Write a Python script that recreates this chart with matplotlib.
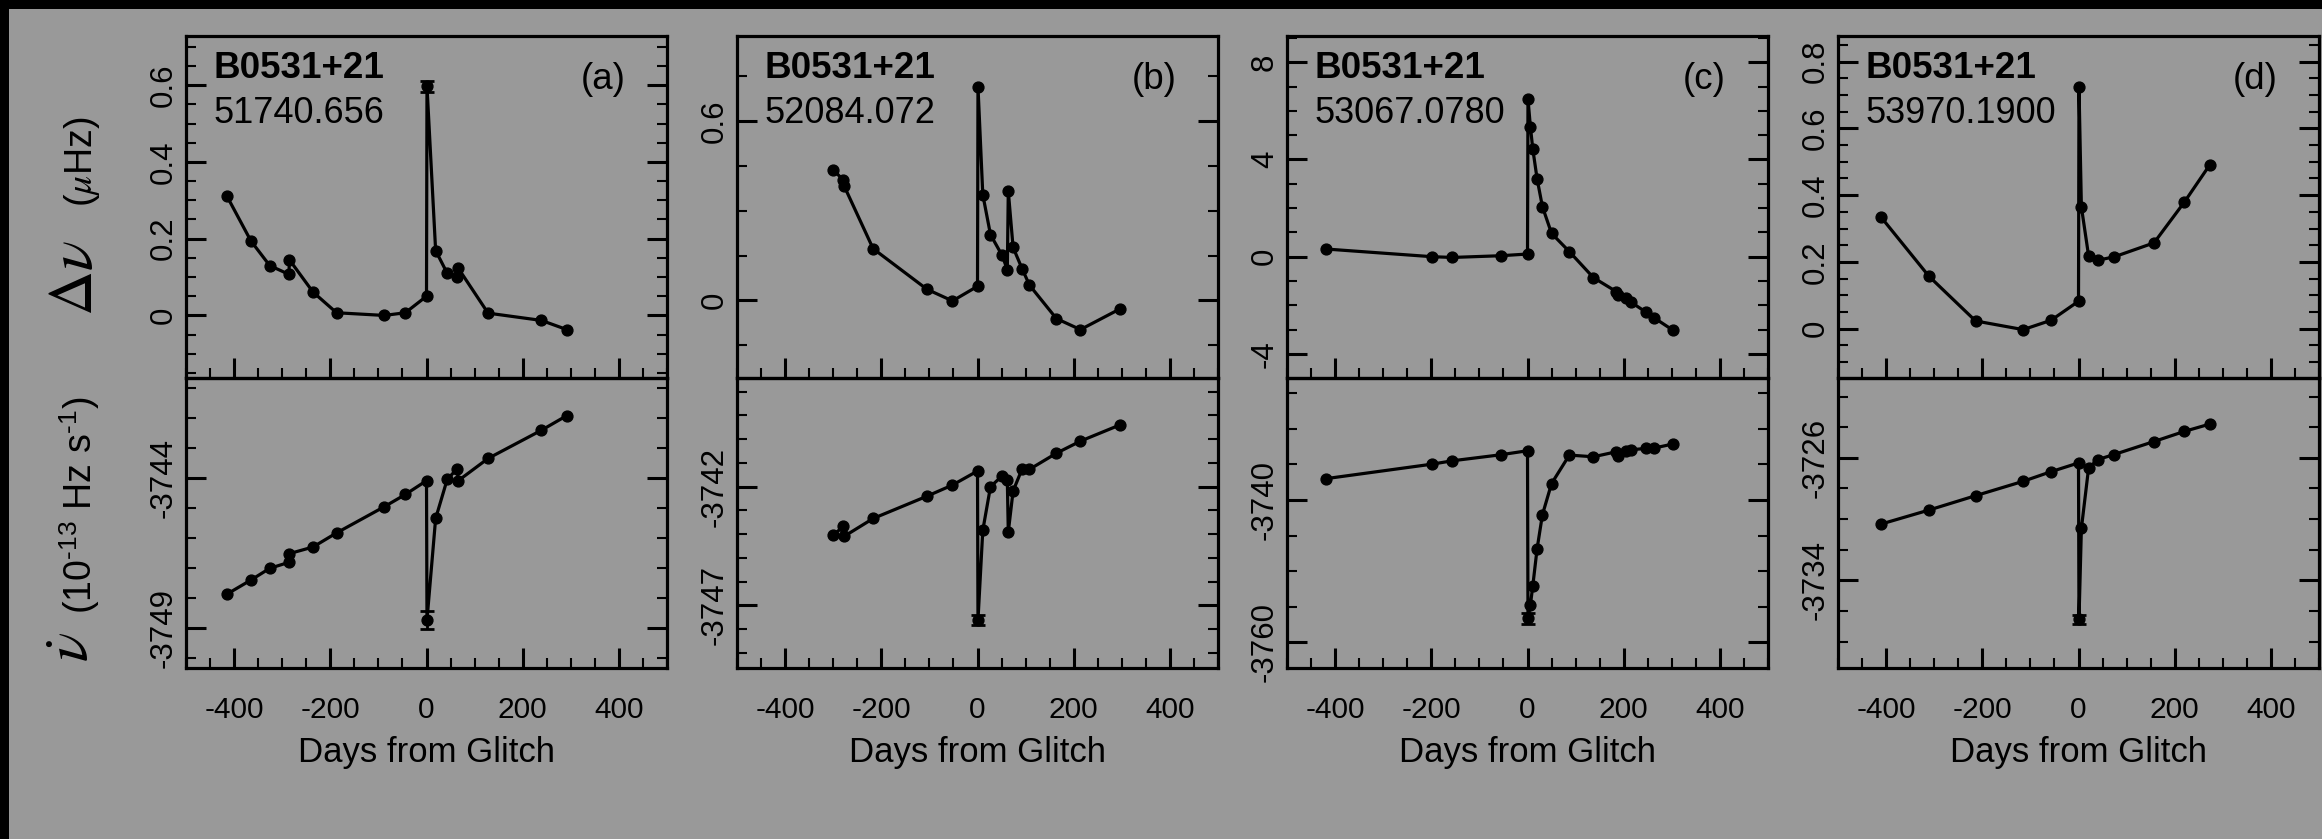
import numpy as np
import matplotlib
matplotlib.use("Agg")
import matplotlib.pyplot as plt
from matplotlib.ticker import MultipleLocator, FixedLocator, FuncFormatter
from matplotlib.patches import Rectangle

plt.rcParams['font.family'] = ['Liberation Sans', 'DejaVu Sans']
plt.rcParams['mathtext.fontset'] = 'stix'
plt.rcParams['axes.unicode_minus'] = False

pulsar = "B0531+21"
panel_letters = ["(a)", "(b)", "(c)", "(d)"]
glitch_epochs = ["51740.656", "52084.072", "53067.0780", "53970.1900"]

days_a = [-415, -365, -326, -286, -285, -236, -187, -88, -44, 0, 1, 19, 43, 64, 66, 128, 239, 292]
dnu_a = [0.311, 0.194, 0.130, 0.107, 0.145, 0.061, 0.007, 0.0, 0.007, 0.050, 0.597, 0.169, 0.110,
         0.100, 0.123, 0.006, -0.013, -0.037]
nudot_a = [-3747.88, -3747.41, -3747.02, -3746.82, -3746.53, -3746.31, -3745.84, -3744.97, -3744.56,
           -3744.10, -3748.74, -3745.36, -3744.06, -3743.70, -3744.10, -3743.36, -3742.42, -3741.93]

days_b = [-300, -279, -277, -217, -105, -52, 0, 1, 11, 27, 51, 62, 64, 74, 93, 108, 164, 214, 297]
dnu_b = [0.438, 0.402, 0.382, 0.173, 0.037, -0.002, 0.047, 0.715, 0.354, 0.220, 0.151, 0.103, 0.366,
         0.177, 0.105, 0.051, -0.061, -0.098, -0.028]
nudot_b = [-3744.05, -3743.67, -3744.09, -3743.34, -3742.40, -3741.93, -3741.34, -3747.62, -3743.84,
           -3742.00, -3741.55, -3741.73, -3743.91, -3742.18, -3741.24, -3741.27, -3740.59, -3740.08,
           -3739.39]

days_c = [-418, -198, -156, -56, 0, 1, 6, 11, 20, 31, 50, 87, 137, 185, 189, 204, 216, 247, 263, 302]
dnu_c = [0.315, 0.0, -0.03, 0.04, 0.11, 6.49, 5.35, 4.43, 3.20, 2.06, 0.96, 0.21, -0.86, -1.44, -1.58,
         -1.71, -1.88, -2.29, -2.51, -3.02]
nudot_c = [-3736.99, -3734.96, -3734.49, -3733.65, -3733.08, -3756.61, -3754.73, -3752.05, -3746.82,
           -3742.07, -3737.69, -3733.69, -3733.93, -3733.22, -3733.88, -3733.08, -3732.94, -3732.75,
           -3732.71, -3732.14]

days_d = [-411, -311, -214, -115, -57, 0, 1, 6, 21, 40, 74, 157, 220, 273]
dnu_d = [0.335, 0.157, 0.023, -0.003, 0.025, 0.082, 0.725, 0.365, 0.218, 0.205, 0.215, 0.257, 0.379, 0.491]
nudot_d = [-3730.33, -3729.41, -3728.47, -3727.53, -3726.90, -3726.33, -3736.56, -3730.61, -3726.66,
           -3726.11, -3725.78, -3724.93, -3724.27, -3723.79]

# index of the first post-glitch point and its error bars
glitch_idx = [10, 7, 5, 6]
dnu_err = [0.015, 0.0, 0.0, 0.0]
nudot_err = [0.3, 0.2, 0.8, 0.3]

# axis ranges and ticks
ylim_top = [(-0.163, 0.728), (-0.26, 0.885), (-4.99, 9.08), (-0.148, 0.877)]
ylim_bot = [(-3750.34, -3740.68), (-3749.64, -3737.42), (-3763.58, -3722.87), (-3739.73, -3720.78)]
yticks_top = [[0, 0.2, 0.4, 0.6], [0, 0.6], [-4, 0, 4, 8], [0, 0.2, 0.4, 0.6, 0.8]]
yminor_top = [0.05, 0.15, 1, 0.05]
yticks_bot = [[-3749, -3744], [-3747, -3742], [-3760, -3740], [-3734, -3726]]
yminor_bot = [1, 1, 5, 2]

days = [days_a, days_b, days_c, days_d]
dnu = [dnu_a, dnu_b, dnu_c, dnu_d]
nudot = [nudot_a, nudot_b, nudot_c, nudot_d]

bg = '#999999'
W, H = 2322, 839
fig = plt.figure(figsize=(W / 100, H / 100), dpi=100, facecolor=bg)

# black frame bits on the top and left edge
fig.add_artist(Rectangle((0, 1 - 9 / H), 1, 9 / H, transform=fig.transFigure, color='black', lw=0))
fig.add_artist(Rectangle((0, 0), 9 / W, 1, transform=fig.transFigure, color='black', lw=0))


def px_axes(left, top, width, height):
    ax = fig.add_axes([left / W, 1 - (top + height) / H, width / W, height / H])
    ax.set_facecolor('none')
    return ax


def style_axes(ax, lim, major, minor):
    ax.set_xlim(-500, 500)
    ax.set_ylim(lim)
    ax.xaxis.set_major_locator(MultipleLocator(200))
    ax.xaxis.set_minor_locator(MultipleLocator(50))
    ax.yaxis.set_major_locator(FixedLocator(major))
    ax.yaxis.set_minor_locator(MultipleLocator(minor))
    fmt = FuncFormatter(lambda v, p: '%g' % round(v, 6))
    ax.xaxis.set_major_formatter(fmt)
    ax.yaxis.set_major_formatter(fmt)
    for s in ax.spines.values():
        s.set_linewidth(2.3)
    ax.tick_params(which='major', direction='in', length=14.5, width=2.2, top=False, right=True)
    ax.tick_params(which='minor', direction='in', length=7, width=1.5, top=False, right=True)
    ax.tick_params(axis='x', pad=20, labelsize=21.5)
    ax.tick_params(axis='y', pad=5, labelsize=22.5, labelrotation=90)
    for lab in ax.get_yticklabels():
        lab.set_va('center')


lefts = [186, 737, 1287, 1838]
width = 481

for k in range(4):
    ax1 = px_axes(lefts[k], 36, width, 342)
    ax2 = px_axes(lefts[k], 378, width, 290)
    i = glitch_idx[k]

    for ax, vals, err in ((ax1, dnu[k], dnu_err[k]), (ax2, nudot[k], nudot_err[k])):
        ax.plot(days[k], vals, '-o', color='black', lw=2.3, ms=7.8, clip_on=False)
        if err > 0:
            ax.errorbar(days[k][i], vals[i], yerr=err, fmt='none', ecolor='black',
                        elinewidth=2, capsize=5, capthick=2)

    style_axes(ax1, ylim_top[k], yticks_top[k], yminor_top[k])
    style_axes(ax2, ylim_bot[k], yticks_bot[k], yminor_bot[k])
    ax1.tick_params(labelbottom=False)
    ax2.set_xlabel('Days from Glitch', fontsize=25, labelpad=9)

    ax1.text(0.058, 0.877, pulsar, transform=ax1.transAxes, fontsize=26.5, fontweight='bold',
             va='baseline')
    ax1.text(0.058, 0.746, glitch_epochs[k], transform=ax1.transAxes, fontsize=26, va='baseline')
    ax1.text(0.867, 0.874, panel_letters[k], transform=ax1.transAxes, fontsize=26.5,
             ha='center', va='center')

# y axis titles on the far left
fig.text(92 / W, 1 - 278 / H, r'$\Delta\nu$', fontsize=45, rotation=90, rotation_mode='anchor',
         ha='center', va='baseline')
fig.text(92 / W, 1 - 162 / H, r'($\mu$Hz)', fontsize=27, rotation=90, rotation_mode='anchor',
         ha='center', va='baseline')
fig.text(88 / W, 1 - 647 / H, r'$\dot{\nu}$', fontsize=44, rotation=90, rotation_mode='anchor',
         ha='center', va='baseline')
fig.text(92 / W, 1 - 505 / H, '(10$^{\\mathregular{\u201013}}$ Hz s$^{\\mathregular{\u20101}}$)',
         fontsize=27, rotation=90, rotation_mode='anchor', ha='center', va='baseline')

fig.savefig('out.png', dpi=100, facecolor=fig.get_facecolor())
